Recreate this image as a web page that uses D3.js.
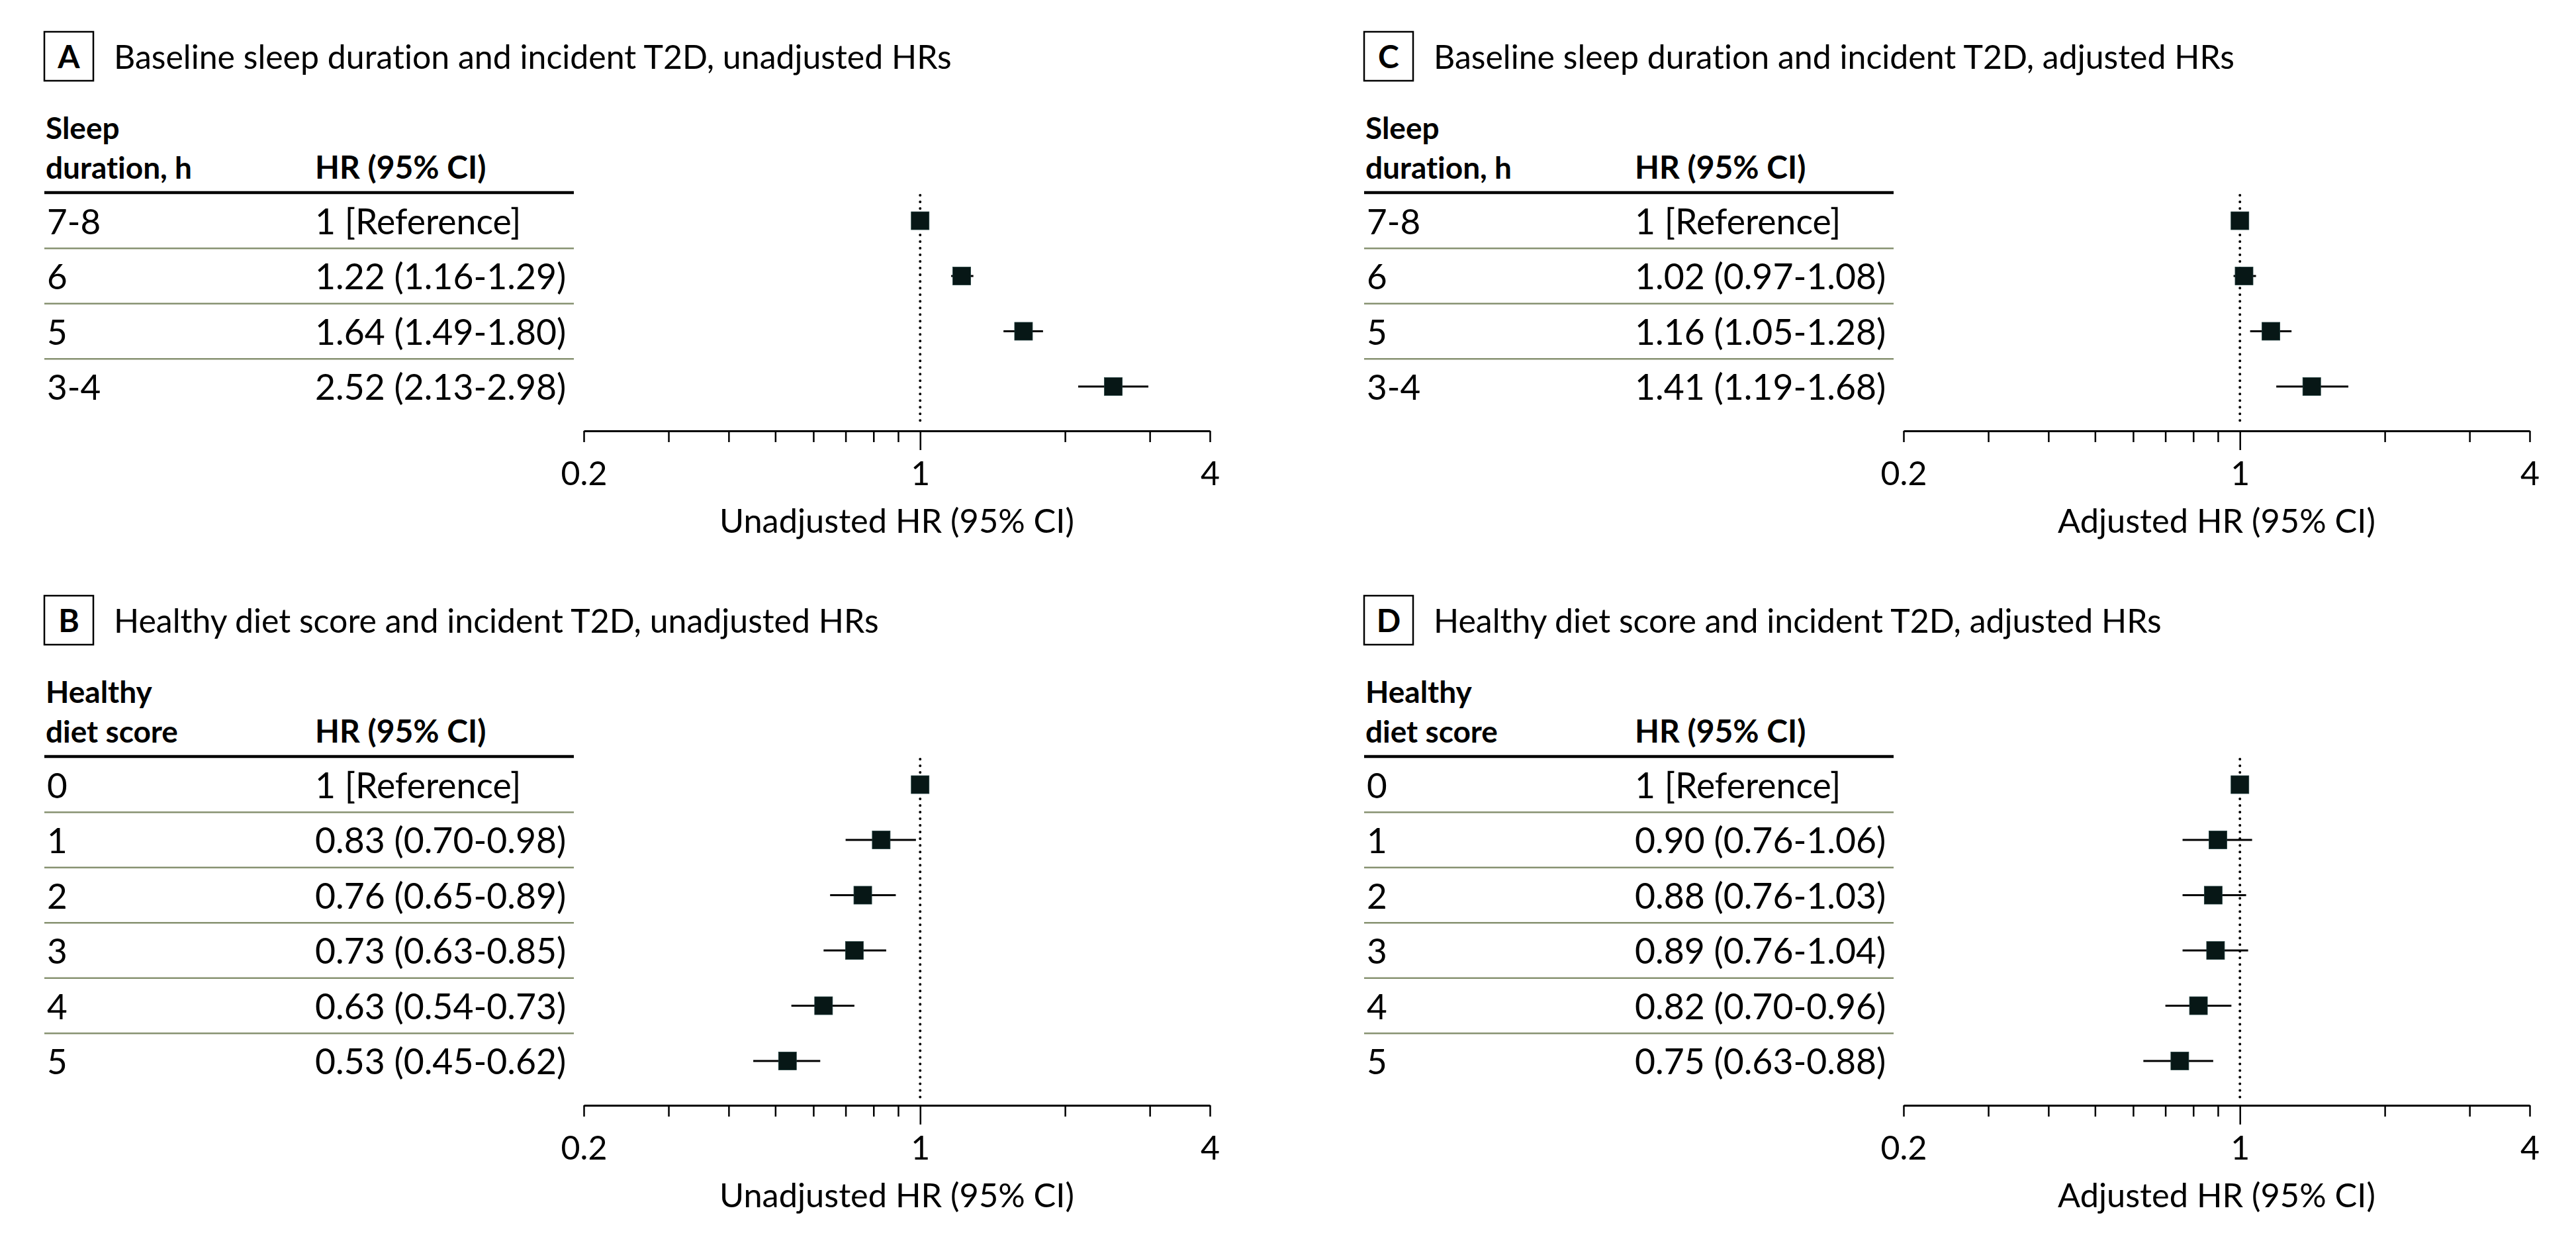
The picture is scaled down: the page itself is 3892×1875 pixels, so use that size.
<!DOCTYPE html>
<html>
<head>
<meta charset="utf-8">
<script src="https://cdn.jsdelivr.net/npm/d3@7"></script>
<style>
  html, body { margin: 0; padding: 0; background: #fff; }
  svg { display: block; }
  text { font-family: Lato, "Noto Sans", sans-serif; fill: #000; font-variant-ligatures: none; font-feature-settings: "liga" 0, "clig" 0; }
</style>
</head>
<body>
<script>
// ---------------- DATA ----------------
const panelLetters = ["A", "B", "C", "D"];
const panelTitles = [
  "Baseline sleep duration and incident T2D, unadjusted HRs",
  "Healthy diet score and incident T2D, unadjusted HRs",
  "Baseline sleep duration and incident T2D, adjusted HRs",
  "Healthy diet score and incident T2D, adjusted HRs"
];
const sleepHeader = ["Sleep", "duration, h"];
const dietHeader = ["Healthy", "diet score"];
const hrHeader = "HR (95% CI)";
const referenceLabel = "1 [Reference]";
const axisTitles = ["Unadjusted HR (95% CI)", "Unadjusted HR (95% CI)", "Adjusted HR (95% CI)", "Adjusted HR (95% CI)"];

const sleepCategories = ["7-8", "6", "5", "3-4"];
const dietCategories = ["0", "1", "2", "3", "4", "5"];

// Panel A: sleep, unadjusted
const sleepUnadjHR = [1, 1.22, 1.64, 2.52];
const sleepUnadjLo = [null, 1.16, 1.49, 2.13];
const sleepUnadjHi = [null, 1.29, 1.80, 2.98];
// Panel B: diet, unadjusted
const dietUnadjHR = [1, 0.83, 0.76, 0.73, 0.63, 0.53];
const dietUnadjLo = [null, 0.70, 0.65, 0.63, 0.54, 0.45];
const dietUnadjHi = [null, 0.98, 0.89, 0.85, 0.73, 0.62];
// Panel C: sleep, adjusted
const sleepAdjHR = [1, 1.02, 1.16, 1.41];
const sleepAdjLo = [null, 0.97, 1.05, 1.19];
const sleepAdjHi = [null, 1.08, 1.28, 1.68];
// Panel D: diet, adjusted
const dietAdjHR = [1, 0.90, 0.88, 0.89, 0.82, 0.75];
const dietAdjLo = [null, 0.76, 0.76, 0.76, 0.70, 0.63];
const dietAdjHi = [null, 1.06, 1.03, 1.04, 0.96, 0.88];

const axisDomain = [0.2, 4];
const labeledTicks = [0.2, 1, 4];
const allTicks = [0.2, 0.3, 0.4, 0.5, 0.6, 0.7, 0.8, 0.9, 1, 2, 3, 4];

// ---------------- LAYOUT ----------------
const W = 3892, H = 1875;
const panels = [
  { letter: panelLetters[0], title: panelTitles[0], header: sleepHeader, cats: sleepCategories, hr: sleepUnadjHR, lo: sleepUnadjLo, hi: sleepUnadjHi, axisTitle: axisTitles[0], dx: 0, dy: 0 },
  { letter: panelLetters[1], title: panelTitles[1], header: dietHeader, cats: dietCategories, hr: dietUnadjHR, lo: dietUnadjLo, hi: dietUnadjHi, axisTitle: axisTitles[1], dx: 0, dy: 852 },
  { letter: panelLetters[2], title: panelTitles[2], header: sleepHeader, cats: sleepCategories, hr: sleepAdjHR, lo: sleepAdjLo, hi: sleepAdjHi, axisTitle: axisTitles[2], dx: 1994, dy: 0 },
  { letter: panelLetters[3], title: panelTitles[3], header: dietHeader, cats: dietCategories, hr: dietAdjHR, lo: dietAdjLo, hi: dietAdjHi, axisTitle: axisTitles[3], dx: 1994, dy: 852 }
];

const L = {
  boxX: 67, boxY: 48, boxW: 74, boxH: 74,
  titleX: 172, titleY: 104,
  headX: 69, head1Y: 210, head2Y: 270,
  hrX: 476,
  ruleY: 291, ruleX0: 67, ruleX1: 867,
  firstRowOffset: 42.5, rowPitch: 83.5,
  textDrop: 20,
  axisGap: 67,
  xRange: [882, 1828],
  sq: 27
};

const svg = d3.select("body").append("svg")
  .attr("width", W).attr("height", H)
  .attr("viewBox", `0 0 ${W} ${H}`);
svg.append("rect").attr("width", W).attr("height", H).attr("fill", "#fff");

const x = d3.scaleLog().domain(axisDomain).range(L.xRange);
const fmt = v => v.toFixed(2);

panels.forEach(p => {
  const g = svg.append("g").attr("transform", `translate(${p.dx},${p.dy})`);

  // Letter box
  g.append("rect")
    .attr("x", L.boxX).attr("y", L.boxY)
    .attr("width", L.boxW).attr("height", L.boxH)
    .attr("fill", "none").attr("stroke", "#000").attr("stroke-width", 2.5);
  g.append("text")
    .attr("x", L.boxX + L.boxW / 2).attr("y", 103)
    .attr("text-anchor", "middle")
    .attr("font-weight", 700).attr("font-size", 48)
    .text(p.letter);
  g.append("text")
    .attr("x", L.titleX).attr("y", L.titleY)
    .attr("font-size", 50)
    .text(p.title);

  // Column headers
  g.append("text").attr("x", L.headX).attr("y", L.head1Y)
    .attr("font-weight", 700).attr("font-size", 46).text(p.header[0]);
  g.append("text").attr("x", L.headX).attr("y", L.head2Y)
    .attr("font-weight", 700).attr("font-size", 46).text(p.header[1]);
  g.append("text").attr("x", L.hrX).attr("y", L.head2Y)
    .attr("font-weight", 700).attr("font-size", 48).text(hrHeader);

  // thick rule
  g.append("line")
    .attr("x1", L.ruleX0).attr("x2", L.ruleX1)
    .attr("y1", L.ruleY).attr("y2", L.ruleY)
    .attr("stroke", "#000").attr("stroke-width", 4.5);

  const y = d3.scalePoint()
    .domain(p.cats)
    .range([L.ruleY + L.firstRowOffset, L.ruleY + L.firstRowOffset + L.rowPitch * (p.cats.length - 1)]);
  const axisY = y(p.cats[p.cats.length - 1]) + L.axisGap;

  // row separators
  p.cats.slice(0, -1).forEach(c => {
    g.append("line")
      .attr("x1", L.ruleX0).attr("x2", L.ruleX1)
      .attr("y1", y(c) + L.rowPitch / 2).attr("y2", y(c) + L.rowPitch / 2)
      .attr("stroke", "#879271").attr("stroke-width", 2.4);
  });

  // row text
  p.cats.forEach((c, i) => {
    g.append("text").attr("x", L.headX + 2).attr("y", y(c) + L.textDrop)
      .attr("font-size", 53).text(c);
    const lbl = p.lo[i] == null ? referenceLabel : `${fmt(p.hr[i])} (${fmt(p.lo[i])}-${fmt(p.hi[i])})`;
    g.append("text").attr("x", L.hrX).attr("y", y(c) + L.textDrop)
      .attr("font-size", 53.5).text(lbl);
  });

  // reference dotted line
  g.append("line")
    .attr("x1", x(1)).attr("x2", x(1))
    .attr("y1", L.ruleY + 4).attr("y2", axisY - 6)
    .attr("stroke", "#000").attr("stroke-width", 4)
    .attr("stroke-linecap", "round")
    .attr("stroke-dasharray", "0.01 10");

  // axis
  const axis = d3.axisBottom(x)
    .tickValues(allTicks)
    .tickSize(17)
    .tickSizeOuter(0)
    .tickFormat(d => labeledTicks.includes(d) ? d3.format("")(d) : "");
  const ag = g.append("g").attr("transform", `translate(0,${axisY})`).call(axis);
  ag.select(".domain").attr("stroke", "#000").attr("stroke-width", 2.8);
  ag.selectAll(".tick line").attr("stroke", "#000").attr("stroke-width", 2.5)
    .attr("y2", d => d === 1 ? 29 : 17);
  ag.selectAll(".tick text")
    .attr("y", 82).attr("dy", 0)
    .attr("font-size", 50)
    .attr("font-family", "Lato, 'Noto Sans', sans-serif")
    .attr("fill", "#000");

  g.append("text")
    .attr("x", (L.xRange[0] + L.xRange[1]) / 2).attr("y", axisY + 154)
    .attr("text-anchor", "middle").attr("font-size", 50.5)
    .text(p.axisTitle);

  // CIs and squares
  p.cats.forEach((c, i) => {
    if (p.lo[i] != null) {
      g.append("line")
        .attr("x1", x(p.lo[i])).attr("x2", x(p.hi[i]))
        .attr("y1", y(c)).attr("y2", y(c))
        .attr("stroke", "#000").attr("stroke-width", 3);
    }
    g.append("rect")
      .attr("x", x(p.hr[i]) - L.sq / 2).attr("y", y(c) - L.sq / 2)
      .attr("width", L.sq).attr("height", L.sq)
      .attr("fill", "#071716")
      .attr("stroke", "#1d3b3a").attr("stroke-width", 0.8);
  });
});
</script>
</body>
</html>
